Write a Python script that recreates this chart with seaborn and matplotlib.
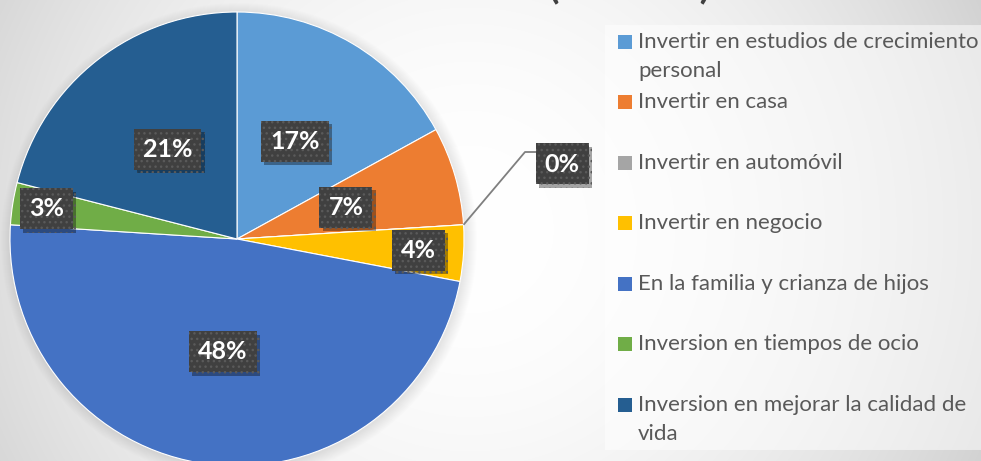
import numpy as np
import matplotlib
matplotlib.use("Agg")
import matplotlib.pyplot as plt
import matplotlib.patheffects as pe
from matplotlib.patches import Rectangle, Circle
import seaborn as sns

# ---- data -------------------------------------------------------------
categorias = [
    "Invertir en estudios de crecimiento\npersonal",
    "Invertir en casa",
    "Invertir en automóvil",
    "Invertir en negocio",
    "En la familia y crianza de hijos",
    "Inversion en tiempos de ocio",
    "Inversion en mejorar la calidad de\nvida",
]
porcentajes = [17, 7, 0, 4, 48, 3, 21]
colores = ["#5B9BD5", "#ED7D31", "#A5A5A5", "#FFC000", "#4472C4", "#70AD47", "#255E91"]

# ---- layout (pixel units, y measured from the top) --------------------
W, H = 981, 461
CX, CY_TOP, R = 237, 239, 227
label_dist = [0.5, 0.5, None, 0.8, 0.5, 0.85, 0.5]

sns.set_theme(style="white")
plt.rcParams["font.family"] = ["Lato", "DejaVu Sans"]

fig = plt.figure(figsize=(W / 100, H / 100), dpi=100)
ax = fig.add_axes([0, 0, 1, 1])


def Y(y_top):
    return H - y_top


# background: soft radial grey gradient, legend panel slightly lighter
yy, xx = np.mgrid[0:H, 0:W] + 0.5
rr = np.hypot(xx - 470, yy - 230)
v = 1 - 0.14 * (rr / 500) ** 2
leg = (xx >= 605) & (yy >= 26) & (yy <= 450)
v[leg] = 1 - (1 - v[leg]) * 0.5
v = np.clip(v, 0, 1)
ax.imshow(np.dstack([v, v, v]), extent=(0, W, 0, H), origin="upper",
          aspect="auto", interpolation="bilinear", zorder=0)

# soft shadow behind the pie
for i in range(12):
    ax.add_patch(Circle((CX + 2, Y(CY_TOP) - 2), R + i, color="black",
                        alpha=0.008, lw=0, zorder=0.5))

wedges, texts, autotexts = ax.pie(
    porcentajes,
    colors=colores,
    startangle=90,
    counterclock=False,
    radius=R,
    center=(CX, Y(CY_TOP)),
    autopct=lambda p: f"{p:.0f}%",
    pctdistance=0.5,
    wedgeprops=dict(linewidth=0.8, edgecolor="white"),
)

box_style = dict(boxstyle="square,pad=0.36", fc="#404040", ec="#5a5a5a",
                 lw=0, hatch="...")

for i, (w, t) in enumerate(zip(wedges, autotexts)):
    t.set_fontsize(18)
    t.set_fontweight("bold")
    t.set_color("white")
    t.set_bbox(box_style)
    t.get_bbox_patch().set_path_effects(
        [pe.SimplePatchShadow(offset=(2.5, -2.5), shadow_rgbFace="black", alpha=0.35),
         pe.Normal()])
    t.set_zorder(5)
    mid = np.deg2rad((w.theta1 + w.theta2) / 2)
    if label_dist[i] is None:
        # zero slice: label outside with a leader line
        ex, ey = CX + R * np.cos(mid), Y(CY_TOP) + R * np.sin(mid)
        ax.plot([ex, 525, 537], [ey, Y(152), Y(152)], color="#7f7f7f",
                lw=1.3, zorder=4, solid_capstyle="butt")
        t.set_position((562, Y(164)))
    else:
        d = label_dist[i] * R
        t.set_position((CX + d * np.cos(mid), Y(CY_TOP) + d * np.sin(mid)))

# partially visible title parentheses at the top edge
for px, ch in [(553, "("), (705, ")")]:
    ax.text(px, Y(-3), ch, fontsize=38, color="#404040", ha="center",
            va="baseline", zorder=3)

# legend
for k, (lab, col) in enumerate(zip(categorias, colores)):
    y0 = 42 + k * 60.5
    ax.add_patch(Rectangle((618, Y(y0) - 7), 14, 14, fc=col, lw=0, zorder=3))
    for j, line in enumerate(lab.split("\n")):
        ax.text(638, Y(y0 + 29 * j), line, fontsize=16, color="#595959",
                ha="left", va="center", zorder=3)

ax.set_xlim(0, W)
ax.set_ylim(0, H)
ax.axis("off")

fig.savefig("out.png", dpi=100)
